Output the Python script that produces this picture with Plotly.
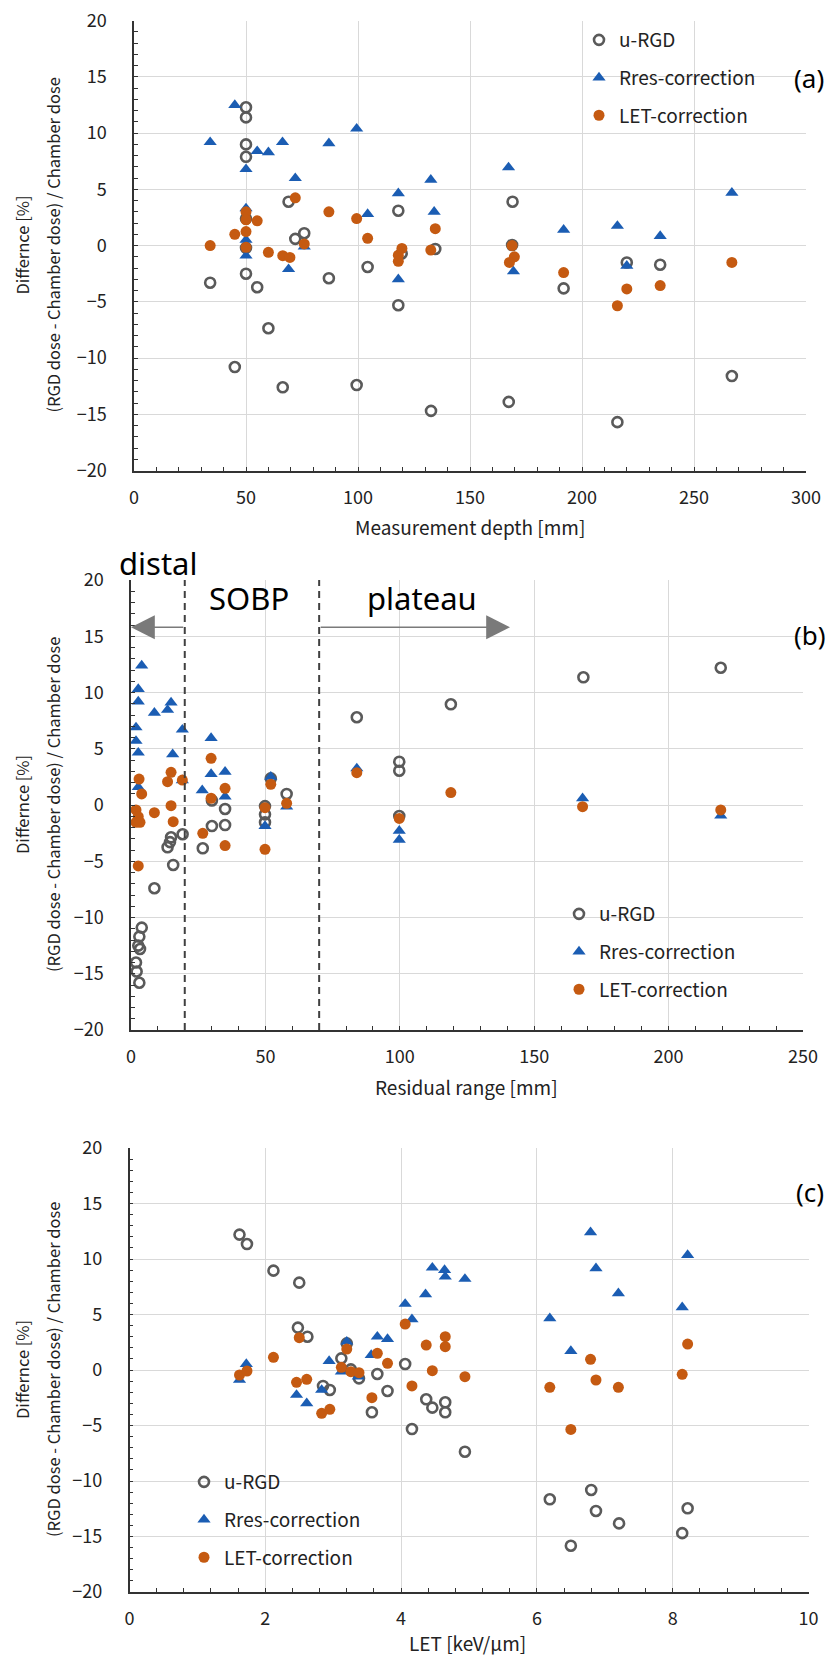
import plotly.graph_objects as go

# ---------------- data ----------------
# Panel (a): x = measurement depth [mm]
depth_urgd = [34, 45, 50, 50, 50, 50, 50, 50, 50, 55, 60, 66.4, 69, 72, 76, 87, 99.4, 104.3,
              118, 119.5, 118, 134.5, 132.6, 167.3, 169, 168.8, 191.8, 215.8, 220, 234.9, 266.9]
diff_urgd_a = [-3.3, -10.8, 12.3, 11.4, 9.0, 7.9, 2.4, -0.2, -2.5, -3.7, -7.35, -12.6, 3.9, 0.6,
               1.1, -2.9, -12.4, -1.9, 3.1, -0.7, -5.3, -0.3, -14.7, -13.9, 3.9, 0.05, -3.8,
               -15.7, -1.5, -1.7, -11.6]
depth_rres = [34, 45, 50, 50, 50, 50, 55, 60, 66.3, 69, 72, 76, 87, 99.4, 104.3, 118, 118,
              132.5, 134, 167.2, 169.4, 191.8, 215.8, 220, 234.9, 266.9]
diff_rres_a = [9.2, 12.5, 6.8, 3.3, 0.5, -0.9, 8.4, 8.3, 9.2, -2.1, 6.0, -0.1, 9.1, 10.4, 2.8,
               4.65, -3.0, 5.85, 3.0, 6.95, -2.3, 1.4, 1.75, -1.8, 0.85, 4.7]
depth_let = [34, 45, 50, 50, 50, 50, 55, 60, 66.4, 69.6, 72, 76, 87, 99.4, 104.3, 118, 119.6,
             118, 134.5, 132.5, 168.8, 169.8, 167.6, 191.8, 215.8, 220, 234.9, 266.9]
diff_let_a = [0.0, 1.0, 3.0, 2.3, 1.25, -0.15, 2.2, -0.6, -0.9, -1.05, 4.25, 0.15, 3.0, 2.4,
              0.65, -0.85, -0.25, -1.4, 1.5, -0.4, 0.0, -1.0, -1.5, -2.4, -5.35, -3.85, -3.55, -1.5]

# Panel (b): x = residual range [mm]
rr_urgd = [84, 99.8, 99.8, 119, 168.3, 219.4, 30.1, 35, 52, 57.9, 49.85, 49.85, 49.85, 30.1, 35,
           26.7, 19.2, 14.9, 14.5, 13.6, 15.7, 8.7, 4.0, 3.1, 2.7, 3.35, 1.86, 2.1, 3.1, 99.8]
diff_urgd_b = [7.8, 3.85, 3.05, 8.95, 11.35, 12.2, 0.4, -0.35, 2.37, 0.98, -0.1, -0.83, -1.54,
               -1.87, -1.78, -3.85, -2.6, -2.87, -3.3, -3.76, -5.33, -7.4, -10.9, -11.7, -12.5,
               -12.8, -14.0, -14.8, -15.8, -0.98]
rr_rres = [3.97, 2.7, 2.7, 8.7, 13.6, 14.9, 1.86, 1.86, 2.7, 19.1, 15.5, 29.8, 29.8, 35, 26.5,
           35, 2.7, 19.1, 52, 49.85, 57.9, 99.8, 99.8, 84, 168, 219.4]
diff_rres_b = [12.4, 10.3, 9.2, 8.2, 8.45, 9.1, 6.9, 5.7, 4.65, 6.7, 4.5, 5.95, 2.75, 2.95, 1.3,
               0.75, 1.6, 2.2, 2.5, -1.87, -0.15, -2.3, -3.1, 3.25, 0.6, -0.95]
rr_let = [3.0, 3.97, 13.6, 14.9, 19.1, 29.8, 29.8, 35, 52, 57.9, 84, 1.86, 2.7, 1.86, 3.35, 2.7,
          8.7, 14.9, 15.7, 26.7, 35, 49.85, 49.85, 99.8, 119, 168, 219.4]
diff_let_b = [2.3, 0.98, 2.07, 2.9, 2.22, 4.15, 0.6, 1.48, 1.84, 0.15, 2.87, -0.44, -1.04, -1.54,
              -1.54, -5.42, -0.68, -0.06, -1.48, -2.52, -3.61, -0.24, -3.94, -1.19, 1.1, -0.15,
              -0.44]
region_bounds = [20, 70]          # distal | SOBP | plateau boundaries [mm]
arrow_level = 15.8
distal_arrow = [20, 0]
plateau_arrow = [70, 141]

# Panel (c): x = LET [keV/um]
let_urgd = [1.62, 1.73, 2.12, 2.5, 2.48, 2.62, 3.2, 3.12, 3.26, 3.65, 4.06, 2.85, 2.95, 3.38,
            3.57, 3.8, 4.16, 4.37, 4.46, 4.65, 4.65, 4.94, 6.19, 6.8, 6.87, 7.21, 6.5, 8.14, 8.22]
diff_urgd_c = [12.2, 11.35, 8.95, 7.87, 3.82, 3.0, 2.4, 1.05, 0.06, -0.36, 0.54, -1.44, -1.8,
               -0.75, -3.81, -1.89, -5.32, -2.64, -3.39, -2.91, -3.81, -7.36, -11.65, -10.81,
               -12.7, -13.82, -15.83, -14.7, -12.46]
let_rres = [1.72, 4.06, 4.16, 3.65, 3.8, 3.56, 2.94, 3.2, 3.12, 4.46, 4.64, 4.65, 4.94, 4.36,
            6.79, 6.87, 7.2, 8.22, 8.14, 6.19, 6.5, 1.62, 2.46, 2.61, 2.83, 3.37]
diff_rres_c = [0.54, 5.95, 4.57, 3.0, 2.79, 1.35, 0.81, 2.55, -0.15, 9.22, 9.0, 8.41, 8.2, 6.82,
               12.4, 9.16, 6.91, 10.36, 5.65, 4.66, 1.71, -0.9, -2.25, -3.0, -1.8, -0.6]
let_let = [2.5, 2.12, 3.2, 3.12, 3.26, 3.38, 3.65, 3.8, 4.06, 1.62, 1.73, 2.46, 2.61, 2.83, 2.95,
           3.57, 4.16, 4.65, 4.37, 4.65, 4.46, 4.94, 6.79, 6.87, 8.22, 8.14, 6.19, 7.2, 6.5]
diff_let_c = [2.91, 1.14, 1.89, 0.24, -0.15, -0.24, 1.5, 0.6, 4.14, -0.45, -0.09, -1.11, -0.84,
              -3.9, -3.54, -2.49, -1.44, 3.0, 2.25, 2.1, -0.06, -0.6, 0.96, -0.9, 2.34, -0.39,
              -1.56, -1.56, -5.35]

series_names = ["u-RGD", "Rres-correction", "LET-correction"]

# ---------------- figure ----------------
W, H = 833, 1662
def fx(p):
    return p / W
def fy(p):
    return 1 - p / H

FONT = "Noto Sans CJK JP"
GRAY_C = "#5a5a5a"
BLUE = "#1b5db3"
ORANGE = "#c55a11"

styles = [
    dict(mode="markers", marker=dict(symbol="circle-open", size=10, color=GRAY_C,
                                     line=dict(width=2.6, color=GRAY_C))),
    dict(mode="markers", marker=dict(symbol="triangle-up", size=11.5, color=BLUE,
                                     line=dict(width=0))),
    dict(mode="markers", marker=dict(symbol="circle", size=11, color=ORANGE,
                                     line=dict(width=0))),
]

panels = [
    ("x", "y", "legend", [(depth_urgd, diff_urgd_a), (depth_rres, diff_rres_a), (depth_let, diff_let_a)]),
    ("x2", "y2", "legend2", [(rr_urgd, diff_urgd_b), (rr_rres, diff_rres_b), (rr_let, diff_let_b)]),
    ("x3", "y3", "legend3", [(let_urgd, diff_urgd_c), (let_rres, diff_rres_c), (let_let, diff_let_c)]),
]

fig = go.Figure()
for pi, (xa, ya, lg, data) in enumerate(panels):
    for si, (xs, ys) in enumerate(data):
        fig.add_trace(go.Scatter(x=xs, y=ys, name=series_names[si], xaxis=xa, yaxis=ya,
                                 legend=lg, legendgroup=f"{pi}-{si}", showlegend=True,
                                 hoverinfo="x+y", **styles[si]))

tickfont = dict(family=FONT, size=18, color="#222")
def xaxis_cfg(domain, rng, dtick, minor_dtick, anchor):
    return dict(domain=domain, range=rng, dtick=dtick, tick0=0, anchor=anchor,
                automargin=False,
                showline=True, linecolor="#333", linewidth=1.5,
                ticks="inside", ticklen=4, tickcolor="#333", tickwidth=1.2,
                minor=dict(dtick=minor_dtick, ticks="inside", ticklen=4, tickcolor="#333",
                           tickwidth=1.2, showgrid=False),
                showgrid=True, gridcolor="#d9d9d9", gridwidth=1, zeroline=False,
                tickfont=tickfont, ticklabelstandoff=10, fixedrange=True)
def yaxis_cfg(domain, anchor):
    return dict(domain=domain, range=[-20, 20], dtick=5, tick0=0, anchor=anchor,
                automargin=False,
                showline=True, linecolor="#333", linewidth=1.5,
                ticks="inside", ticklen=4, tickcolor="#333", tickwidth=1.2,
                minor=dict(dtick=1, ticks="inside", ticklen=4, tickcolor="#333",
                           tickwidth=1.2, showgrid=False),
                showgrid=True, gridcolor="#d9d9d9", gridwidth=1, zeroline=False,
                tickfont=tickfont, ticklabelstandoff=22, fixedrange=True)

fig.update_layout(
    width=W, height=H, autosize=False,
    margin=dict(l=0, r=0, t=0, b=0, autoexpand=False),
    paper_bgcolor="white", plot_bgcolor="white",
    font=dict(family=FONT, color="#222"),
    xaxis=xaxis_cfg([fx(134), fx(806)], [0, 300], 50, 10, "y"),
    yaxis=yaxis_cfg([fy(470.5), fy(20.7)], "x"),
    xaxis2=xaxis_cfg([fx(131), fx(803)], [0, 250], 50, 10, "y2"),
    yaxis2=yaxis_cfg([fy(1030), fy(580)], "x2"),
    xaxis3=xaxis_cfg([fx(129.5), fx(808.5)], [0, 10], 2, 0.4, "y3"),
    yaxis3=yaxis_cfg([fy(1592), fy(1148)], "x3"),
)

def legend_cfg(left_px, top_px):
    return dict(x=fx(left_px), y=fy(top_px), xanchor="left", yanchor="top",
                bgcolor="rgba(0,0,0,0)", borderwidth=0, traceorder="grouped",
                tracegroupgap=10, font=dict(family=FONT, size=19, color="#222"),
                itemclick=False, itemdoubleclick=False)

fig.update_layout(legend=legend_cfg(579, 21), legend2=legend_cfg(559, 895),
                  legend3=legend_cfg(184, 1463))

# dashed region boundaries in panel (b)
for b in region_bounds:
    fig.add_shape(type="line", xref="x2", yref="y2", x0=b, x1=b, y0=-20, y1=20,
                  line=dict(color="#404040", width=2, dash="7px,5px"))

# arrows in panel (b)
for (x0, x1) in (distal_arrow, plateau_arrow):
    fig.add_annotation(xref="x2", yref="y2", axref="x2", ayref="y2",
                       x=x1, y=arrow_level, ax=x0, ay=arrow_level, text="",
                       showarrow=True, arrowhead=2, arrowsize=2.8, arrowwidth=1.7,
                       arrowcolor="#7a7a7a", standoff=0, startstandoff=0)

ann_font = dict(family="Noto Sans", color="black")
texts = [
    ("distal", 158, 563, 31), ("SOBP", 249, 598, 31), ("plateau", 422, 598, 31),
    ("(a)", 809, 78, 26), ("(b)", 810, 635, 26), ("(c)", 810, 1192, 26),
]
for t, xp, yp, s in texts:
    fig.add_annotation(xref="paper", yref="paper", x=fx(xp), y=fy(yp), text=t,
                       showarrow=False, xanchor="center", yanchor="middle",
                       font=dict(size=s, **ann_font))

# axis titles
xtitle_font = dict(family=FONT, size=19, color="#222")
ytitle_font = dict(family=FONT, size=16.5, color="#222")
xtitles = [("Measurement depth [mm]", 470, 527), ("Residual range [mm]", 466, 1086),
           ("LET [keV/μm]", 467, 1642)]
for t, xp, yp in xtitles:
    fig.add_annotation(xref="paper", yref="paper", x=fx(xp), y=fy(yp), text=t,
                       showarrow=False, xanchor="center", yanchor="middle", font=xtitle_font)

ycenters = [245.6, 805, 1370]
for yc in ycenters:
    fig.add_annotation(xref="paper", yref="paper", x=fx(22), y=fy(yc), text="Differnce [%]",
                       textangle=-90, showarrow=False, xanchor="center", yanchor="middle",
                       font=ytitle_font)
    fig.add_annotation(xref="paper", yref="paper", x=fx(53), y=fy(yc),
                       text="(RGD dose - Chamber dose) / Chamber dose",
                       textangle=-90, showarrow=False, xanchor="center", yanchor="middle",
                       font=ytitle_font)

fig.write_html("out.html", config={"displayModeBar": False},
               post_script="document.body.style.margin='0';"
                           "document.body.style.overflow='hidden';")
